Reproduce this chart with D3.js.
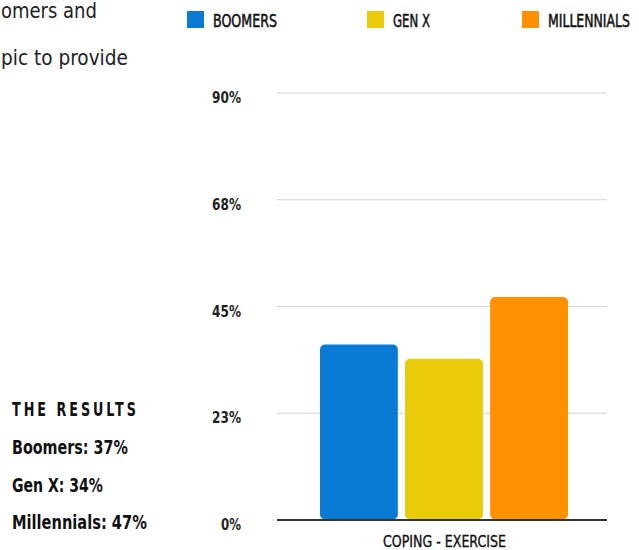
<!DOCTYPE html>
<html>
<head>
<meta charset="utf-8">
<script src="https://cdn.jsdelivr.net/npm/d3@7"></script>
<style>
  html, body { margin: 0; padding: 0; background: #fff; overflow: hidden; }
  svg { display: block; }
</style>
</head>
<body>
<svg id="chart" width="639" height="550"></svg>
<script>
// Survey data: share of each generation that copes through exercise
const series = ["BOOMERS", "GEN X", "MILLENNIALS"];
const resultNames = ["Boomers", "Gen X", "Millennials"];
const values = [37, 34, 47];
const colors = ["#0A7BD4", "#E9CB0B", "#FF9100"];
const tickValues = [0, 22.5, 45, 67.5, 90];
const tickLabels = ["0%", "23%", "45%", "68%", "90%"];
const category = "COPING - EXERCISE";

const svg = d3.select("#chart");
const FONT = '"DejaVu Sans Condensed", "Liberation Sans Narrow", sans-serif';

// Condensed text helper: texts are drawn at x=0 inside a positioned group,
// then narrowed horizontally to the wanted width.
function squeeze(sel, widthFn) {
  sel.each(function (d, i) {
    const natural = this.getComputedTextLength();
    const w = typeof widthFn === "function" ? widthFn(d, i) : widthFn;
    d3.select(this).attr("transform", `scale(${w / natural},1)`);
  });
}
function label(parent, x, y, text, style, width, anchor) {
  const t = parent.append("g").attr("transform", `translate(${x},${y})`)
    .append("text")
    .attr("text-anchor", anchor || "start")
    .style("font-family", FONT)
    .text(text);
  Object.entries(style).forEach(([k, v]) => t.style(k, v));
  squeeze(t, width);
  return t;
}

// Scales
const y = d3.scaleLinear().domain([0, 90]).range([520, 93]);
const x = d3.scaleBand().domain(series).range([320, 568]).paddingInner(0.085);
const plotLeft = 277, plotRight = 607;

// Y labels via a left axis
const yAxis = d3.axisLeft(y)
  .tickValues(tickValues)
  .tickFormat((d, i) => tickLabels[i])
  .tickSize(0)
  .tickPadding(0);

const gAxis = svg.append("g").attr("transform", "translate(241,0)").call(yAxis);
gAxis.select(".domain").remove();
gAxis.selectAll("text")
  .attr("x", 0)
  .attr("dy", "0.6em")
  .style("font-family", FONT)
  .style("font-weight", "bold")
  .style("font-size", "16px")
  .style("fill", "#222")
  .call(squeeze, d => (d === 0 ? 20 : 29));

// Gridlines
svg.append("g").selectAll("line")
  .data(tickValues.filter(d => d > 0))
  .join("line")
  .attr("x1", plotLeft).attr("x2", plotRight)
  .attr("y1", d => y(d)).attr("y2", d => y(d))
  .attr("stroke", "#d3d3d3").attr("stroke-width", 1);

// Bars
svg.append("g").selectAll("rect")
  .data(values)
  .join("rect")
  .attr("x", (d, i) => x(series[i]))
  .attr("width", x.bandwidth())
  .attr("y", d => y(d))
  .attr("height", d => y(0) - y(d) - 0.5)
  .attr("rx", 5).attr("ry", 5)
  .attr("fill", (d, i) => colors[i]);

// Baseline
svg.append("line")
  .attr("x1", plotLeft).attr("x2", plotRight)
  .attr("y1", y(0)).attr("y2", y(0))
  .attr("stroke", "#333").attr("stroke-width", 2);

// Category label
const medium = { "font-size": "16px", fill: "#111", stroke: "#111", "stroke-width": "0.35px" };
label(svg, 383, 547, category, medium, 123);

// Legend
const legendX = [187, 367, 522];
const legendW = [64, 37, 82];
series.forEach((s, i) => {
  svg.append("rect")
    .attr("x", legendX[i]).attr("y", 11)
    .attr("width", 17).attr("height", 17)
    .attr("fill", colors[i]);
  label(svg, legendX[i] + 26, 26.5, s, { ...medium, "font-size": "17px", "stroke-width": "0.5px" }, legendW[i]);
});

// Body text running along the left edge
const body = { "font-size": "21px", fill: "#222" };
label(svg, 1, 18, "omers and", body, 96);
label(svg, 1, 65, "pic to provide", body, 127);

// Results summary
label(svg, 12, 416, "THE RESULTS",
  { "font-weight": "bold", "font-size": "19px", "letter-spacing": "4px", fill: "#111" }, 127);

const resultY = [454, 492, 529];
const resultW = [116, 91, 135];
values.forEach((v, i) => {
  label(svg, 12, resultY[i], `${resultNames[i]}: ${v}%`,
    { "font-weight": "bold", "font-size": "19px", fill: "#111" }, resultW[i]);
});
</script>
</body>
</html>
